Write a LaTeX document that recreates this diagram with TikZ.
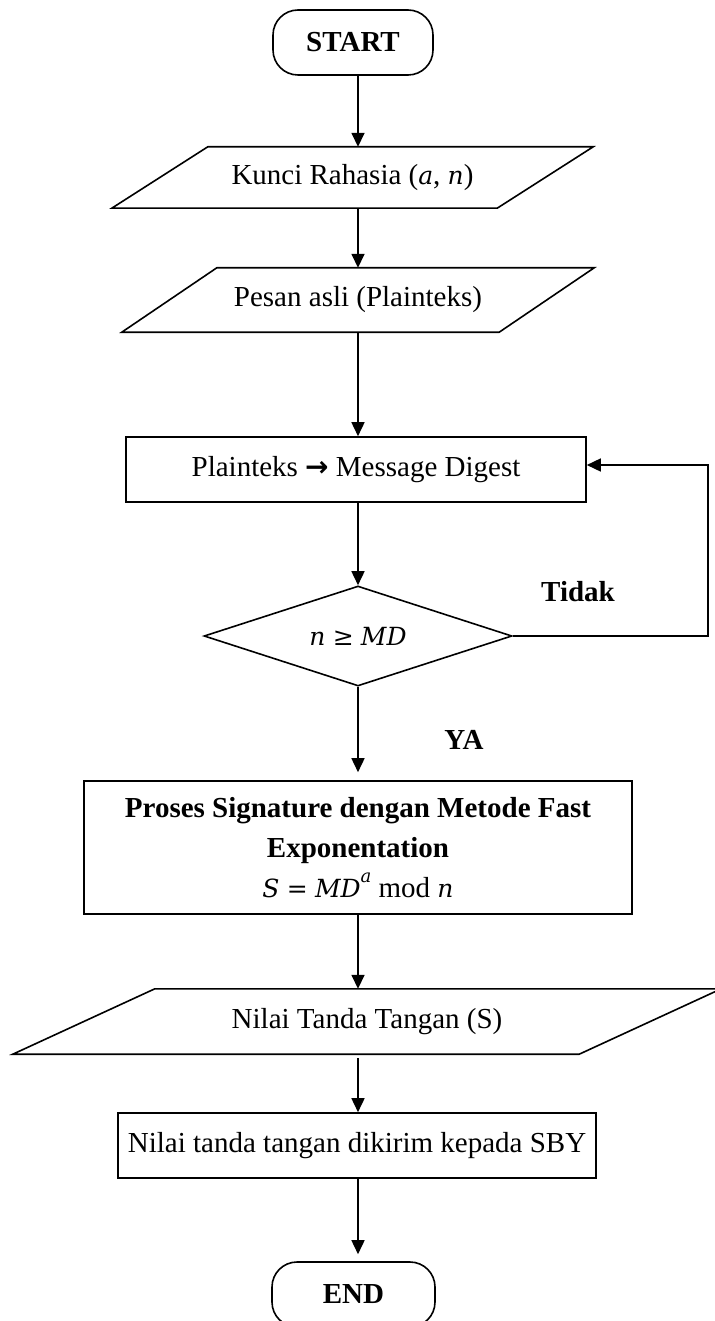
\documentclass[tikz,border=0pt]{standalone}
\usepackage{fontspec}
\setmainfont{Liberation Serif}
\newfontfamily\arrowfont{DejaVu Sans}
\newfontfamily\varfont{DejaVu Serif}
\usetikzlibrary{arrows.meta,shapes.geometric}

% outline of an input/output box around an undrawn node
\newcommand\slantbox[2]{%
  \draw[line] ([xshift=#2]#1.north west) -- ([xshift=#2]#1.north east)
    -- ([xshift=-#2]#1.south east) -- ([xshift=-#2]#1.south west) -- cycle;}
% italic variables in formulas
\newcommand\var[1]{{\varfont\itshape\fontsize{25}{30}\selectfont #1}}

\begin{document}
\begin{tikzpicture}[x=1pt,y=-1pt,
  txt/.style={font=\fontsize{29}{40}\selectfont, inner sep=0pt, align=center},
  line/.style={line width=1.6pt, line join=miter},
  flow/.style={line, -{Triangle[length=14pt,width=13pt]}},
  terminal/.style={txt, draw, line width=1.6pt, rounded corners=25pt,
    minimum height=65pt, font=\fontsize{29}{40}\selectfont\bfseries},
  procbox/.style={txt, draw, line width=1.6pt, rectangle},
  iobox/.style={txt, rectangle},
  decision/.style={txt, draw, line width=1.6pt, diamond, aspect=3,
    minimum width=308pt, minimum height=100pt},
  tag/.style={txt, font=\fontsize{29}{40}\selectfont\bfseries}
  ]
\useasboundingbox (0,0) rectangle (714,1321);

\coordinate (ax) at (358,0);

\node[terminal, minimum width=160pt] (start) at (353,42.5) {START};

\node[iobox, minimum width=385pt, minimum height=61pt] (p1) at (352.5,177.5)
  {Kunci Rahasia (\var{a}, \var{n})};
\slantbox{p1}{48pt}

\node[iobox, minimum width=377pt, minimum height=64pt] (p2) at (358,300)
  {Pesan asli (Plainteks)};
\slantbox{p2}{47.5pt}

\node[procbox, minimum width=460pt, minimum height=65pt] (r1) at (356,469.5)
  {Plainteks {\arrowfont\bfseries\fontsize{28}{30}\selectfont →} Message Digest};

\node[decision] (d) at (358,636) {\var{n} {\varfont\fontsize{25}{30}\selectfont ≥} \var{MD}};

\node[procbox, minimum width=548pt, minimum height=133pt] (r2) at (358,847.5)
  {\textbf{Proses Signature dengan Metode Fast}\\
   \textbf{Exponentation}\\
   \var{S} {\varfont\fontsize{25}{30}\selectfont =} \var{MD}\raisebox{0.5em}{\varfont\itshape\fontsize{18}{20}\selectfont a}\ mod \var{n}};

\node[iobox, minimum width=566pt, minimum height=65pt] (p3) at (367,1021.5)
  {Nilai Tanda Tangan (S)};
\slantbox{p3}{71pt}

\node[procbox, minimum width=478pt, minimum height=65pt] (r3) at (357,1145.5)
  {Nilai tanda tangan dikirim kepada SBY};

\node[terminal, minimum width=163pt] (end) at (353.5,1294.5) {END};

\node[tag] (no) at (578,592) {Tidak};
\node[tag] (yes) at (464,740) {YA};

% main flow
\draw[flow] (start.south -| ax) -- (p1.north -| ax);
\draw[flow] (p1.south -| ax) -- (p2.north -| ax);
\draw[flow] (p2.south -| ax) -- (r1.north -| ax);
\draw[flow] (r1.south -| ax) -- (d.north);
\draw[flow, shorten >=8pt] (d.south) -- (r2.north -| d.south);
\draw[flow] (r2.south -| ax) -- (p3.north -| ax);
\draw[flow, shorten <=4pt] (p3.south -| ax) -- (r3.north -| ax);
\draw[flow, shorten >=7pt] (r3.south -| ax) -- (end.north -| ax);

% loop back when the condition fails
\coordinate (back) at (708,465);
\draw[flow] (d.east) -| (back) -- (back -| r1.east);
\end{tikzpicture}
\end{document}
